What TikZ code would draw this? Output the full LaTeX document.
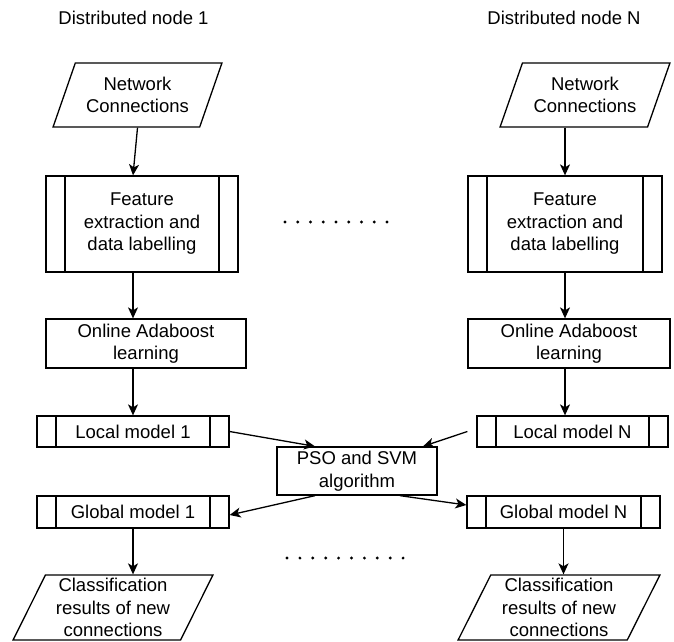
\documentclass[tikz,border=0pt]{standalone}
\usepackage{fontspec}
\setmainfont{Liberation Sans}
\usetikzlibrary{arrows.meta,shapes.geometric,calc}

\tikzset{
  every node/.style={font=\fontsize{18.5}{22.5}\selectfont, align=center, inner sep=0pt},
  box/.style={draw, line width=1.3pt, rectangle},
  subproc/.style={box, path picture={
      \draw[line width=1.3pt] ([xshift=19]path picture bounding box.north west) -- ([xshift=19]path picture bounding box.south west);
      \draw[line width=1.3pt] ([xshift=-19]path picture bounding box.north east) -- ([xshift=-19]path picture bounding box.south east);}},
  iobox/.style={draw, line width=1.3pt, trapezium, trapezium left angle=63, trapezium right angle=117,
      trapezium stretches=true},
  arr/.style={line width=1.3pt, -{Stealth[length=11pt, width=10pt, inset=3pt]}},
  caption/.style={font=\fontsize{18.5}{22}\selectfont},
}

\begin{document}
\begin{tikzpicture}[x=1pt, y=-1pt]
\useasboundingbox (0,0) rectangle (674,641);

% column headings
\node[caption] (h1) at (133.5,18) {Distributed node 1};
\node[caption] (hN) at (564,18) {Distributed node N};

% node 1 pipeline
\node[iobox, minimum width=169, minimum height=64] (nc1) at (137.5,95) {Network\\Connections};
\node[subproc, minimum width=192, minimum height=96] (fe1) at (142,224) {Feature\\extraction and\\data labelling};
\node[box, minimum width=200, minimum height=49] (on1) at (146,343.5) {Online Adaboost\\learning};
\node[subproc, minimum width=192, minimum height=31] (lm1) at (133,431.5) {Local model 1};
\node[subproc, minimum width=192, minimum height=32] (gm1) at (133,512) {Global model 1};
\node[iobox, minimum width=200, minimum height=65, trapezium left angle=65, trapezium right angle=115] (cl1) at (113,607.5) {Classification\\results of new\\connections};

% node N pipeline
\node[iobox, minimum width=170, minimum height=64] (ncN) at (585,95) {Network\\Connections};
\node[subproc, minimum width=194, minimum height=96] (feN) at (565,224) {Feature\\extraction and\\data labelling};
\node[box, minimum width=202, minimum height=49] (onN) at (569,343.5) {Online Adaboost\\learning};
\node[subproc, minimum width=191, minimum height=31] (lmN) at (572.5,431.5) {Local model N};
\node[subproc, minimum width=193, minimum height=32] (gmN) at (563.5,512) {Global model N};
\node[iobox, minimum width=202, minimum height=65, trapezium left angle=65, trapezium right angle=115] (clN) at (559,607.5) {Classification\\results of new\\connections};

% shared optimiser
\node[box, minimum width=160, minimum height=48] (pso) at (357,471) {PSO and SVM\\algorithm};

% node 1 flow
\draw[arr] (nc1.south) -- (fe1.north -| lm1.center);
\draw[arr] (fe1.south -| lm1.center) -- (on1.north -| lm1.center);
\draw[arr] (on1.south -| lm1.center) -- (lm1.north);
\draw[arr] (gm1.south) -- (cl1.north -| gm1.center);

% node N flow
\draw[arr] (ncN.south -| feN.center) -- (feN.north);
\draw[arr] (feN.south) -- (onN.north -| feN.center);
\draw[arr] (onN.south -| feN.center) -- (lmN.north -| feN.center);
\draw[arr] (gmN.south) -- (clN.north -| gmN.center);

% exchange with the optimiser
\draw[arr] (lm1.east) -- ([xshift=-42]pso.north);
\draw[arr] ([xshift=-9]lmN.west) -- ([xshift=66]pso.north);
\draw[arr] ([xshift=-42]pso.south) -- ([yshift=-3]gm1.east);
\draw[arr] ([xshift=43]pso.south) -- ([yshift=7]gmN.west);

% ellipsis between the nodes
\foreach \i in {0,...,8} \fill ({285+12.75*\i},222) circle (1.6);
\foreach \i in {0,...,9} \fill ({287+12.9*\i},558) circle (1.6);
\end{tikzpicture}
\end{document}
